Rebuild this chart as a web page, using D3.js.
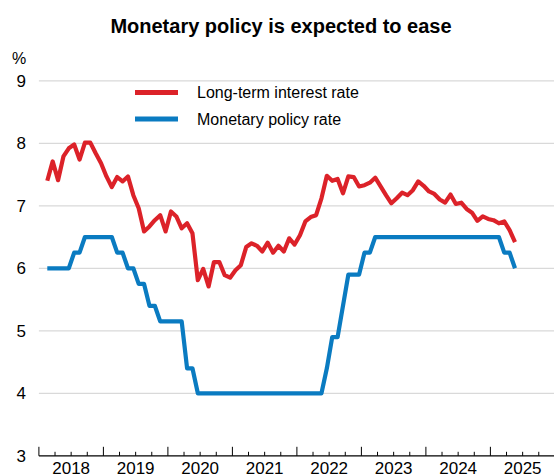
<!DOCTYPE html>
<html><head><meta charset="utf-8">
<script src="https://cdn.jsdelivr.net/npm/d3@7"></script>
<style>body{margin:0;background:#fff}svg{display:block}</style>
</head><body>
<svg id="c" width="554" height="476"></svg>
<script>
const title = "Monetary policy is expected to ease";
const startYear = 2018, startMonth = 0; // Jan 2018, monthly
const longTerm = [7.40,7.71,7.41,7.79,7.92,7.98,7.74,8.01,8.01,7.84,7.68,7.47,
  7.30,7.46,7.39,7.47,7.17,6.96,6.59,6.67,6.77,6.85,6.59,6.91,
  6.83,6.64,6.72,6.56,5.81,5.99,5.71,6.10,6.10,5.89,5.85,5.97,
  6.05,6.34,6.40,6.36,6.27,6.41,6.25,6.36,6.27,6.48,6.38,6.53,
  6.75,6.82,6.85,7.12,7.48,7.40,7.43,7.20,7.47,7.46,7.31,7.33,
  7.37,7.45,7.31,7.17,7.04,7.12,7.21,7.17,7.25,7.39,7.32,7.23,
  7.19,7.10,7.05,7.18,7.03,7.05,6.95,6.89,6.76,6.83,6.79,6.77,
  6.72,6.75,6.61,6.42];
const policy = [6.00,6.00,6.00,6.00,6.00,6.25,6.25,6.50,6.50,6.50,6.50,6.50,
  6.50,6.25,6.25,6.00,6.00,5.75,5.75,5.40,5.40,5.15,5.15,5.15,
  5.15,5.15,4.40,4.40,4.00,4.00,4.00,4.00,4.00,4.00,4.00,4.00,
  4.00,4.00,4.00,4.00,4.00,4.00,4.00,4.00,4.00,4.00,4.00,4.00,
  4.00,4.00,4.00,4.00,4.40,4.90,4.90,5.40,5.90,5.90,5.90,6.25,
  6.25,6.50,6.50,6.50,6.50,6.50,6.50,6.50,6.50,6.50,6.50,6.50,
  6.50,6.50,6.50,6.50,6.50,6.50,6.50,6.50,6.50,6.50,6.50,6.50,
  6.50,6.25,6.25,6.00];
const seriesNames = ["Long-term interest rate","Monetary policy rate"];
const colors = ["#dc2229","#0a7bc1"];
const yTicks = [3,4,5,6,7,8,9];
const yearLabels = ["2018","2019","2020","2021","2022","2023","2024","2025"];

const svg = d3.select("#c");
const font = "Liberation Sans, Arial, sans-serif";

const y = d3.scaleLinear().domain([3,9]).range([455.8,80.8]);
const t = i => startYear + (startMonth + i)/12;
const xData = d3.scaleLinear().domain([2018, 2025.25]).range([47.3, 515]);
const xAxis = d3.scaleLinear().domain([2018, 2026]).range([38.9, 38.9+8*64.5]);
const left = 38.9, right = 554;

// gridlines
svg.append("g").selectAll("line").data(yTicks.filter(d=>d>3)).join("line")
  .attr("x1", left).attr("x2", right)
  .attr("y1", d=>y(d)).attr("y2", d=>y(d))
  .attr("stroke", "#d9d9d9").attr("stroke-width", 1.2);

// y labels
svg.append("g").selectAll("text").data(yTicks).join("text")
  .attr("x", 26).attr("y", d=>y(d)).attr("dy","0.36em")
  .attr("text-anchor","end").attr("font-family",font).attr("font-size",17)
  .attr("fill","#000").text(d=>d);
svg.append("text").attr("x",12).attr("y",64).attr("font-family",font)
  .attr("font-size",16).text("%");

// x axis
const gx = svg.append("g");
gx.append("line").attr("x1",left).attr("x2",right).attr("y1",y(3)).attr("y2",y(3))
  .attr("stroke","#000").attr("stroke-width",1.2);
const quarters = d3.range(0, 33).map(q => 2018 + q/4);
gx.selectAll("line.tk").data(quarters).join("line").attr("class","tk")
  .attr("x1", d=>xAxis(d)).attr("x2", d=>xAxis(d))
  .attr("y1", y(3)).attr("y2", (d,i)=> y(3) - (i%4===0 ? 9 : 4))
  .attr("stroke","#000").attr("stroke-width",1);
gx.selectAll("text").data(yearLabels).join("text")
  .attr("x", d=>xAxis(+d + 0.5)).attr("y", 473.5)
  .attr("text-anchor","middle").attr("font-family",font).attr("font-size",17)
  .text(d=>d);

// lines
const line = d3.line().x((d,i)=>xData(t(i))).y(d=>y(d)).curve(d3.curveLinear);
[longTerm, policy].forEach((s,k)=>{
  svg.append("path").datum(s).attr("d", line)
    .attr("fill","none").attr("stroke",colors[k]).attr("stroke-width",4.2)
    .attr("stroke-linejoin","round");
});

// legend
seriesNames.forEach((n,k)=>{
  const ly = [92.5,119][k];
  svg.append("line").attr("x1",135).attr("x2",178).attr("y1",ly).attr("y2",ly)
    .attr("stroke",colors[k]).attr("stroke-width",5);
  svg.append("text").attr("x",197).attr("y",ly).attr("dy","0.35em")
    .attr("font-family",font).attr("font-size",16).attr("fill","#000").text(n);
});

// title
svg.append("text").attr("x",281).attr("y",33).attr("text-anchor","middle")
  .attr("font-family",font).attr("font-size",20).attr("font-weight","bold").text(title);
</script>
</body></html>
